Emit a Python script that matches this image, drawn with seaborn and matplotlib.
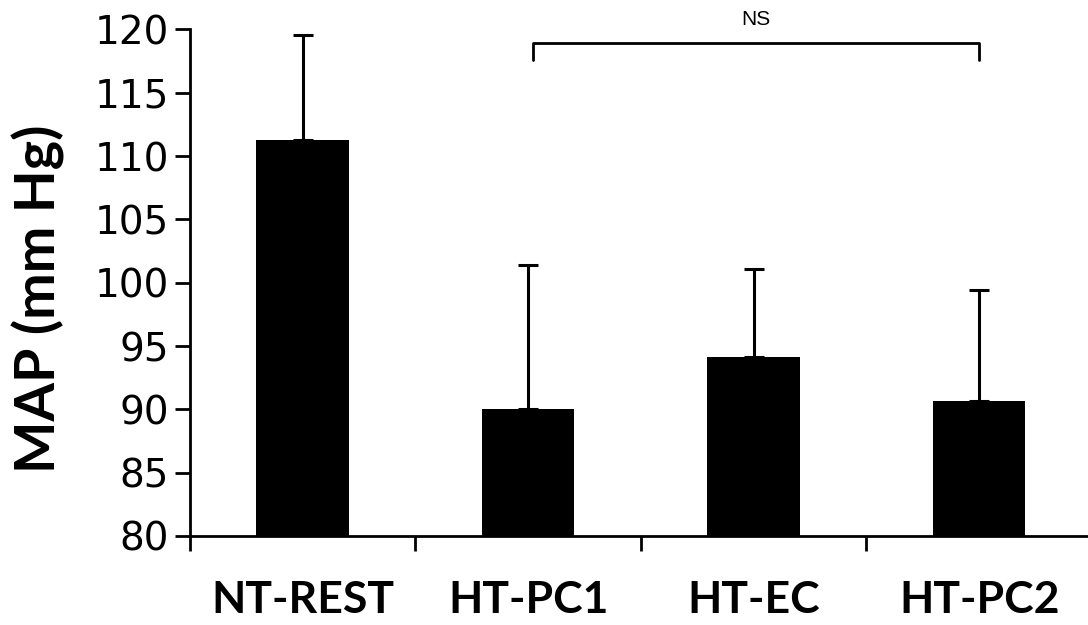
import matplotlib
matplotlib.use("Agg")
import matplotlib.pyplot as plt
import numpy as np
import pandas as pd
import seaborn as sns

# Mean arterial pressure per condition (mean and upper SD)
groups = ["NT-REST", "HT-PC1", "HT-EC", "HT-PC2"]
map_mean = [111.3, 90.0, 94.1, 90.7]
map_sd = [8.3, 11.4, 7.0, 8.7]
y_ticks = [80, 85, 90, 95, 100, 105, 110, 115, 120]

sns.set_theme(style="white")
plt.rcParams["font.family"] = ["Lato", "DejaVu Sans"]
plt.rcParams["text.color"] = "black"
plt.rcParams["axes.labelcolor"] = "black"
plt.rcParams["xtick.color"] = "black"
plt.rcParams["ytick.color"] = "black"

df = pd.DataFrame({"group": groups, "map": map_mean})

fig = plt.figure(figsize=(10.88, 6.25), dpi=100)
ax = fig.add_axes([0.1746, 0.1424, 0.829, 0.8104])

sns.barplot(data=df, x="group", y="map", order=groups, color="black",
            width=0.41, errorbar=None, saturation=1, ax=ax)
for p in ax.patches:
    p.set_edgecolor("black")
    p.set_linewidth(0)

xpos = np.arange(len(groups))
ax.errorbar(xpos, map_mean, yerr=[np.zeros(len(groups)), map_sd], fmt="none",
            ecolor="black", elinewidth=2.2, capsize=7.5, capthick=2.2, zorder=3)

ax.set_ylim(80, 120)
ax.set_xlim(-0.5, 3.5)
ax.set_yticks(y_ticks)
ax.set_yticklabels([str(v) for v in y_ticks], fontsize=28,
                   family=["DejaVu Sans"], color="black")
ax.set_xticks(xpos)
ax.set_xticklabels(groups, fontsize=32, fontweight="bold", color="black")
ax.set_xticks(np.arange(-0.5, 3.6, 1.0), minor=True)
ax.tick_params(axis="x", which="major", length=0, pad=32)
ax.tick_params(axis="x", which="minor", length=11, width=2, color="black",
               direction="out", bottom=True)
ax.tick_params(axis="y", which="major", length=11, width=2, color="black",
               direction="out", left=True, pad=4)
ax.set_xlabel("")
ax.set_ylabel("MAP (mm Hg)", fontsize=40, fontweight="bold", color="black")
ax.yaxis.set_label_coords(-0.139, 0.468)

for side in ["top", "right"]:
    ax.spines[side].set_visible(False)
for side in ["left", "bottom"]:
    ax.spines[side].set_color("black")
    ax.spines[side].set_linewidth(2)

# Comparison bracket between HT-PC1 and HT-PC2
bx0, bx1, by_top, by_bot = 1.02, 3.0, 118.95, 117.6
ax.plot([bx0, bx0, bx1, bx1], [by_bot, by_top, by_top, by_bot],
        color="black", lw=2, clip_on=False, zorder=4)
ax.text((bx0 + bx1) / 2, 120.05, "NS", ha="center", va="bottom",
        fontsize=15, family=["Liberation Sans"], clip_on=False, color="black")

fig.savefig("out.png", dpi=100)
